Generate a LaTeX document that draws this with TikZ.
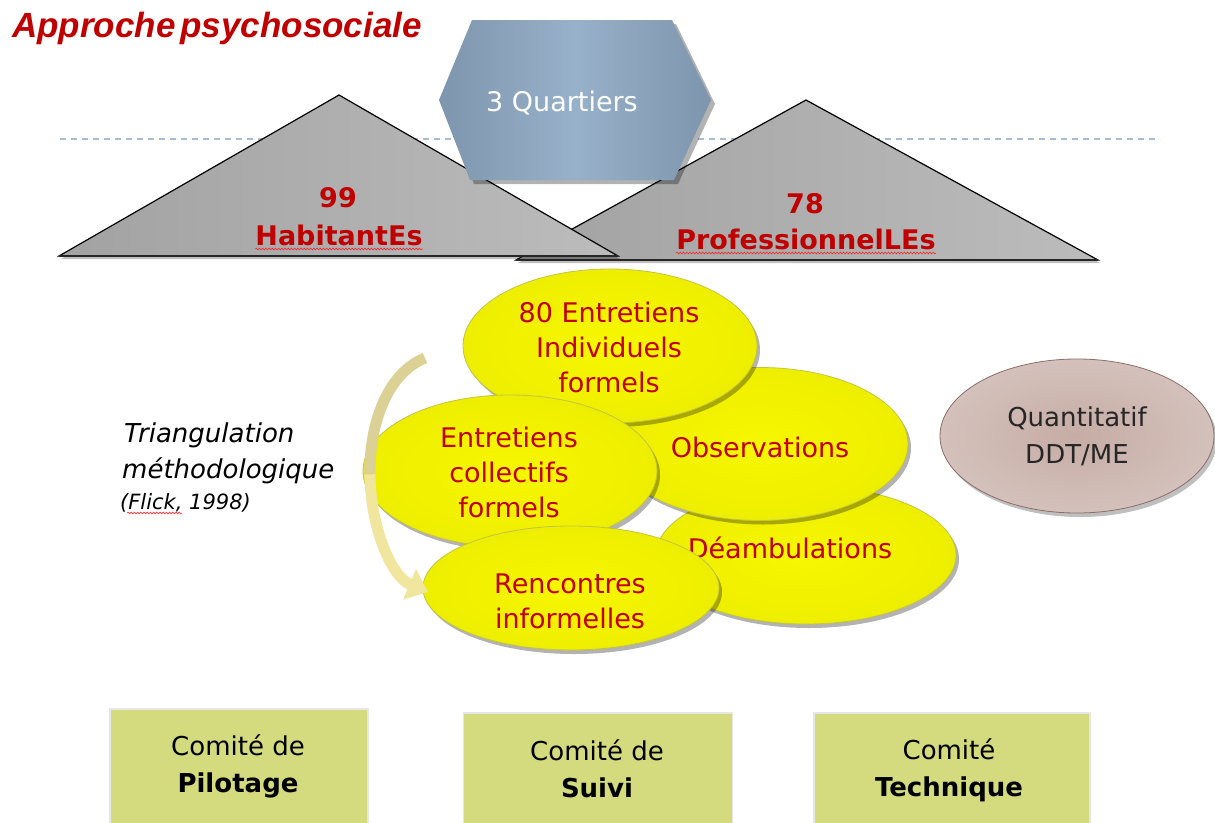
\documentclass[tikz,border=0pt]{standalone}
\usepackage{fontspec}
\setmainfont{DejaVu Sans}
\newfontfamily\titlefont{Liberation Sans}
\usetikzlibrary{shapes.geometric,shadows,decorations.pathmorphing,arrows.meta}
\definecolor{redT}{HTML}{C00000}
\definecolor{redE}{HTML}{C20000}
\definecolor{yelIn}{HTML}{F7F700}
\definecolor{yelOut}{HTML}{EEEE00}
\definecolor{yelEdge}{HTML}{C4C440}
\definecolor{hexL}{HTML}{7D96AD}
\definecolor{hexM}{HTML}{98B1CA}
\definecolor{dashC}{HTML}{A9BDD2}
\definecolor{triL}{HTML}{A2A2A2}
\definecolor{triR}{HTML}{BCBCBC}
\definecolor{quIn}{HTML}{C6ACA5}
\definecolor{quOut}{HTML}{D4C1BB}
\definecolor{quEdge}{HTML}{8C6E68}
\definecolor{boxC}{HTML}{D4DA7E}
\definecolor{boxEdge}{HTML}{E6E6E6}
\definecolor{arrTop}{HTML}{DCD194}
\definecolor{arrBot}{HTML}{F1E69E}
\tikzset{
  yel/.style={ellipse, draw=yelEdge, line width=0.8, inner color=yelIn, outer color=yelOut,
    drop shadow={shadow xshift=3pt, shadow yshift=-4pt, opacity=0.3, fill=black}},
  etext/.style={text=redE, align=center, font=\fontsize{27}{35}\selectfont, inner sep=0},
  tritext/.style={text=redT, font=\fontsize{27}{32}\selectfont\bfseries, inner sep=0, anchor=base},
  tri/.style={draw=black, line width=1.2, left color=triL, right color=triR, line join=miter},
  triBase/.style={draw=black!85, line width=2.6},
  cbox/.style={rectangle, fill=boxC, draw=boxEdge, line width=1.5, anchor=north},
  ctext/.style={align=center, font=\fontsize{26}{37}\selectfont, inner sep=0},
  wavy/.style={draw=red!85, line width=0.6, decorate, decoration={snake, amplitude=0.9pt, segment length=3.2pt}},
  bandtop/.style={draw=arrTop, line width=11},
  bandarrow/.style={draw=arrBot, line width=11, -{Triangle[length=20pt,width=32pt]}},
  itext/.style={anchor=base west, inner sep=0, font=\fontsize{26}{30}\selectfont\itshape},
}
\begin{document}
\begin{tikzpicture}[x=1pt,y=-1pt]
\useasboundingbox[fill=white] (0,0) rectangle (1215,822);
\begin{scope}
\clip (0,0) rectangle (1215,822);
% title
\node[anchor=base west, inner sep=0, text=redT, font=\titlefont\fontsize{35}{38}\selectfont\bfseries\itshape] (title) at (12,37) {Approche\hspace{5pt}psychosociale};
% dashed line
\coordinate (dL) at (60,139);
\coordinate (dR) at (1160,139);
\draw[dashC, line width=1.4, dash pattern=on 6pt off 5pt] (dL) -- (dR);
% right triangle
\path[tri, drop shadow={shadow xshift=2pt, shadow yshift=-3pt, opacity=0.25, fill=black}] (516,260) -- (806,100) -- (1098,260) -- cycle;
\draw[triBase] (516,260) -- (1098,260);
% left triangle
\path[tri, drop shadow={shadow xshift=2pt, shadow yshift=-3pt, opacity=0.25, fill=black}] (59,256) -- (339,95) -- (618,256) -- cycle;
\draw[triBase] (59,256) -- (618,256);
% hexagon
\path[left color=hexL, right color=hexL, middle color=hexM, drop shadow={shadow xshift=4pt, shadow yshift=-4pt, opacity=0.3, fill=black}]
  (472,20) -- (672,20) -- (711,100) -- (674,180) -- (470,180) -- (439,100) -- cycle;
\node[text=white, font=\fontsize{27}{30}\selectfont, inner sep=0] (hex) at (562,103) {3 Quartiers};
% triangle labels
\node[tritext] (n99) at (338,207) {99};
\node[tritext] (hab) at (339,245) {HabitantEs};
\node[tritext] (n78) at (805,213) {78};
\node[tritext] (pro) at (806,249) {ProfessionnelLEs};
\draw[wavy] ([yshift=-4pt]hab.base west) -- ([yshift=-4pt]hab.base east);
\draw[wavy] ([yshift=-4pt]pro.base west) -- ([yshift=-4pt]pro.base east);
% ellipses
\node[yel, minimum width=300, minimum height=138] (e3) at (806,555) {};
\node[etext] (t3) at (790,548) {Déambulations};
\node[yel, minimum width=296, minimum height=153] (e2) at (760,444) {};
\node[etext] (t2) at (760,447) {Observations};
\node[yel, minimum width=294, minimum height=154] (e1) at (610,346) {};
\node[etext] (t1) at (609,347) {80 Entretiens\\Individuels\\formels};
\node[yel, minimum width=294, minimum height=152] (e4) at (510,471) {};
\node[etext] (t4) at (509,472) {Entretiens\\collectifs\\formels};
\node[yel, minimum width=296, minimum height=124] (e5) at (571,588) {};
\node[etext] (t5) at (570,601) {Rencontres\\informelles};
% curved arrow (split in two halves for a colour change)
\coordinate (arS) at (425,358);
\coordinate (arM) at (369.9,474.3);
\coordinate (arE) at (428,592);
\draw[bandtop] (arS) .. controls (387.5,373) and (369.25,423.5) .. (arM);
\draw[bandarrow] (arM) .. controls (370.5,525) and (390,576) .. (arE);
% quantitatif
\node[ellipse, draw=quEdge, line width=0.8, inner color=quIn, outer color=quOut, minimum width=274, minimum height=154,
  drop shadow={shadow xshift=3pt, shadow yshift=-4pt, opacity=0.25, fill=black},
  align=center, font=\fontsize{26}{37}\selectfont, text=black!85] (qu) at (1077,436) {Quantitatif\\DDT/ME};
% triangulation text
\node[itext] (tri1) at (124,442) {Triangulation};
\node[itext] (tri2) at (122,478) {méthodologique};
\node[itext, font=\fontsize{21}{24}\selectfont\itshape] (tri3) at (120,509) {(Flick, 1998)};
\draw[wavy] ([yshift=-4pt,xshift=7pt]tri3.base west) -- ([yshift=-4pt,xshift=62pt]tri3.base west);
% boxes
\node[cbox, minimum width=258, minimum height=130] (b1) at (239,708) {};
\node[ctext] (bt1) at (238,766) {Comité de\\\textbf{Pilotage}};
\node[cbox, minimum width=269, minimum height=130] (b2) at (598,712) {};
\node[ctext] (bt2) at (597,769) {Comité de\\\textbf{Suivi}};
\node[cbox, minimum width=276, minimum height=130] (b3) at (952,712) {};
\node[ctext] (bt3) at (949,770) {Comité\\\textbf{Technique}};
\end{scope}
\end{tikzpicture}
\end{document}
